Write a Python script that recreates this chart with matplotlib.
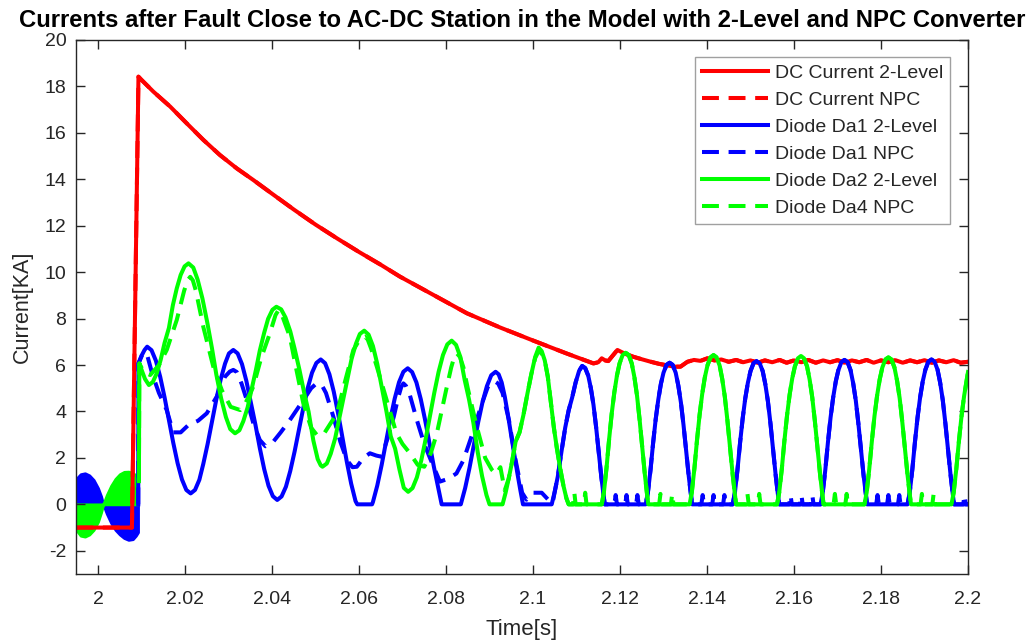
import matplotlib
matplotlib.use("Agg")
import matplotlib.pyplot as plt

plt.rcParams['font.family'] = ['Liberation Sans', 'DejaVu Sans']
plt.rcParams['axes.unicode_minus'] = False

# ---------------------------------------------------------------- data
# DC current, 2-level converter [kA]
dc_2l_t = [1.995, 2.0078, 2.0093, 2.0099, 2.0127, 2.0166, 2.0204, 2.0242, 2.0280,
           2.0319, 2.0357, 2.0400, 2.0450, 2.0500, 2.0550, 2.0600, 2.0650, 2.0694,
           2.0771, 2.0848, 2.0924, 2.1001, 2.1077, 2.1139, 2.1150, 2.1158, 2.1166,
           2.1173, 2.1183, 2.1194, 2.1210, 2.1230, 2.1250, 2.1269, 2.1290, 2.1310,
           2.1325, 2.1339, 2.1355, 2.1370, 2.1385, 2.1401, 2.1417, 2.1433, 2.1450,
           2.1467, 2.1483, 2.1500, 2.1517, 2.1533, 2.1550, 2.1567, 2.1583, 2.1600,
           2.1617, 2.1633, 2.1650, 2.1667, 2.1683, 2.1700, 2.1717, 2.1733, 2.1750,
           2.1767, 2.1783, 2.1800, 2.1817, 2.1833, 2.1850, 2.1867, 2.1883, 2.1900,
           2.1917, 2.1933, 2.1950, 2.1967, 2.1983, 2.2000]
dc_2l_i = [-1.0, -1.0, 18.42, 18.30, 17.78, 17.13, 16.41, 15.70, 15.05,
           14.47, 13.97, 13.38, 12.70, 12.05, 11.45, 10.87, 10.32, 9.81,
           9.02, 8.23, 7.62, 7.05, 6.50, 6.07, 6.12, 6.29, 6.20,
           6.17, 6.40, 6.65, 6.50, 6.36, 6.25, 6.15, 6.05, 5.98,
           5.93, 5.93, 6.14, 6.22, 6.18, 6.29, 6.20, 6.24, 6.14,
           6.22, 6.12, 6.20, 6.10, 6.20, 6.12, 6.22, 6.10, 6.20,
           6.12, 6.22, 6.10, 6.20, 6.12, 6.21, 6.10, 6.20, 6.12,
           6.22, 6.10, 6.20, 6.12, 6.21, 6.10, 6.20, 6.12, 6.21,
           6.10, 6.20, 6.12, 6.21, 6.10, 6.14]

# DC current, NPC converter [kA]
dc_npc_t = list(dc_2l_t)
dc_npc_i = list(dc_2l_i)

# Diode Da1, 2-level converter [kA]
da1_2l_t = [2.00925, 2.0093, 2.0100, 2.0107, 2.0113,
            2.0123, 2.0133, 2.0143, 2.0153, 2.0163, 2.0173, 2.0183, 2.0193, 2.0203, 2.0213,
            2.0223, 2.0233, 2.0242, 2.0252, 2.0262, 2.0272, 2.0282, 2.0292, 2.0301, 2.0311,
            2.0321, 2.0331, 2.0341, 2.0351, 2.0362, 2.0372, 2.0382, 2.0392, 2.0402, 2.0412,
            2.0422, 2.0432, 2.0442, 2.0452, 2.0462, 2.0472, 2.0482, 2.0492, 2.0502, 2.0512,
            2.0522, 2.0532, 2.0542, 2.0552, 2.0562, 2.0572, 2.0582, 2.0592, 2.0596,
            2.0630, 2.0632, 2.0642, 2.0652, 2.0662, 2.0672, 2.0682, 2.0692, 2.0702, 2.0712,
            2.0722, 2.0732, 2.0742, 2.0752, 2.0762, 2.0772, 2.0782, 2.0790,
            2.0834, 2.0844, 2.0854, 2.0864, 2.0874, 2.0884, 2.0894, 2.0904, 2.0914,
            2.0921, 2.0928, 2.0935, 2.0942, 2.0950, 2.0957, 2.0964, 2.0971, 2.0977,
            2.1043, 2.1050, 2.1057, 2.1066, 2.1074, 2.1082, 2.1090, 2.1098, 2.1106, 2.1113,
            2.1120, 2.1127, 2.1133, 2.1139, 2.1145, 2.1151, 2.1157, 2.1162, 2.1165,
            2.1259, 2.1264, 2.1270, 2.1276, 2.1282, 2.1288, 2.1294, 2.1300, 2.1307, 2.1314,
            2.1321, 2.1328, 2.1334, 2.1340, 2.1346, 2.1352, 2.1358, 2.1363, 2.1366,
            2.1459, 2.1464, 2.1470, 2.1476, 2.1482, 2.1488, 2.1494, 2.1500, 2.1507, 2.1514,
            2.1521, 2.1528, 2.1534, 2.1540, 2.1546, 2.1552, 2.1558, 2.1563, 2.1566,
            2.1661, 2.1666, 2.1672, 2.1678, 2.1684, 2.1690, 2.1696, 2.1702, 2.1709, 2.1716,
            2.1723, 2.1730, 2.1736, 2.1742, 2.1748, 2.1754, 2.1760, 2.1765, 2.1768,
            2.1861, 2.1866, 2.1872, 2.1878, 2.1884, 2.1890, 2.1896, 2.1902, 2.1909, 2.1916,
            2.1923, 2.1930, 2.1936, 2.1942, 2.1948, 2.1954, 2.1960, 2.1965, 2.1968, 2.2000]
da1_2l_i = [0.0, 6.07, 6.40, 6.65, 6.79,
            6.64, 6.19, 5.49, 4.61, 3.63, 2.65, 1.77, 1.07, 0.62, 0.47,
            0.62, 1.06, 1.74, 2.60, 3.56, 4.52, 5.38, 6.06, 6.50, 6.65,
            6.50, 6.04, 5.32, 4.42, 3.42, 2.42, 1.52, 0.80, 0.35, 0.19,
            0.34, 0.76, 1.44, 2.28, 3.22, 4.16, 5.00, 5.67, 6.09, 6.24,
            6.08, 5.60, 4.85, 3.91, 2.87, 1.83, 0.89, 0.14, 0.0,
            0.0, 0.10, 0.81, 1.69, 2.68, 3.67, 4.55, 5.26, 5.71, 5.86,
            5.70, 5.25, 4.53, 3.63, 2.63, 1.63, 0.73, 0.0,
            0.0, 0.70, 1.57, 2.56, 3.54, 4.41, 5.09, 5.56, 5.71,
            5.60, 5.25, 4.65, 3.90, 2.95, 2.15, 1.35, 0.60, 0.0,
            0.0, 0.55, 1.20, 2.34, 3.30, 4.05, 4.60, 5.25, 5.75, 5.96,
            5.87, 5.54, 5.00, 4.29, 3.34, 2.26, 1.19, 0.42, 0.0,
            0.0, 0.49, 1.46, 2.62, 3.66, 4.51, 5.19, 5.67, 6.01, 6.10,
            6.01, 5.67, 5.12, 4.39, 3.42, 2.32, 1.22, 0.43, 0.0,
            0.0, 0.49, 1.48, 2.65, 3.70, 4.57, 5.24, 5.74, 6.08, 6.17,
            6.08, 5.74, 5.18, 4.44, 3.46, 2.34, 1.23, 0.43, 0.0,
            0.0, 0.50, 1.49, 2.67, 3.73, 4.60, 5.29, 5.78, 6.13, 6.22,
            6.13, 5.78, 5.22, 4.48, 3.48, 2.36, 1.24, 0.44, 0.0,
            0.0, 0.50, 1.50, 2.68, 3.74, 4.62, 5.30, 5.80, 6.15, 6.24,
            6.15, 5.80, 5.24, 4.49, 3.49, 2.37, 1.25, 0.44, 0.0, 0.0]

# Diode Da1, NPC converter [kA]
da1_npc_t = [2.00925, 2.0093, 2.0103, 2.0112, 2.0125, 2.0140, 2.0158, 2.0173, 2.0190,
             2.0208, 2.0230, 2.0250, 2.0273, 2.0292, 2.0303, 2.0311, 2.0319, 2.0330,
             2.0342, 2.0357, 2.0372, 2.0385, 2.0403, 2.0420, 2.0441, 2.0472, 2.0490,
             2.0500, 2.0507, 2.0514, 2.0524, 2.0541, 2.0557, 2.0572, 2.0585, 2.0595,
             2.0610, 2.0625, 2.0640, 2.0652, 2.0665, 2.0680, 2.0690, 2.0697, 2.0702,
             2.0708, 2.0717, 2.0733, 2.0750, 2.0765, 2.0786, 2.0805, 2.0824, 2.0840,
             2.0860, 2.0880, 2.0896, 2.0905, 2.0912, 2.0920, 2.0930, 2.0945, 2.0960,
             2.0975, 2.0985, 2.1000, 2.1020, 2.1035, 2.1045,
             2.1050, 2.1057, 2.1066, 2.1074, 2.1082, 2.1090, 2.1098, 2.1106, 2.1113,
             2.1120, 2.1127, 2.1133, 2.1139, 2.1145, 2.1151, 2.1157, 2.1162, 2.1165,
             2.1187, 2.1190, 2.1193, 2.1212, 2.1215, 2.1218, 2.1237, 2.1240, 2.1243,
             2.1259, 2.1264, 2.1270, 2.1276, 2.1282, 2.1288, 2.1294, 2.1300, 2.1307, 2.1314,
             2.1321, 2.1328, 2.1334, 2.1340, 2.1346, 2.1352, 2.1358, 2.1363, 2.1366,
             2.1387, 2.1390, 2.1393, 2.1412, 2.1415, 2.1418, 2.1437, 2.1440, 2.1443,
             2.1459, 2.1464, 2.1470, 2.1476, 2.1482, 2.1488, 2.1494, 2.1500, 2.1507, 2.1514,
             2.1521, 2.1528, 2.1534, 2.1540, 2.1546, 2.1552, 2.1558, 2.1563, 2.1566,
             2.1589, 2.1592, 2.1595, 2.1614, 2.1617, 2.1620, 2.1639, 2.1642, 2.1645,
             2.1661, 2.1666, 2.1672, 2.1678, 2.1684, 2.1690, 2.1696, 2.1702, 2.1709, 2.1716,
             2.1723, 2.1730, 2.1736, 2.1742, 2.1748, 2.1754, 2.1760, 2.1765, 2.1768,
             2.1789, 2.1792, 2.1795, 2.1814, 2.1817, 2.1820, 2.1839, 2.1842, 2.1845,
             2.1861, 2.1866, 2.1872, 2.1878, 2.1884, 2.1890, 2.1896, 2.1902, 2.1909, 2.1916,
             2.1923, 2.1930, 2.1936, 2.1942, 2.1948, 2.1954, 2.1960, 2.1965, 2.1968,
             2.1989, 2.1992, 2.1995, 2.2000]
da1_npc_i = [0.0, 6.07, 6.50, 6.50, 5.60, 4.80, 4.06, 3.10, 3.10,
             3.42, 3.60, 3.92, 4.64, 5.50, 5.72, 5.79, 5.70, 5.20,
             4.49, 3.50, 2.77, 2.50, 2.70, 3.10, 3.63, 4.49, 5.00,
             5.17, 5.21, 5.15, 4.80, 3.78, 2.70, 1.91, 1.60, 1.62,
             2.00, 2.20, 2.10, 2.05, 2.80, 3.78, 4.60, 5.05, 5.21,
             5.10, 4.70, 3.63, 2.60, 1.91, 0.98, 1.10, 1.33, 1.90,
             3.00, 4.20, 5.05, 5.25, 5.30, 5.20, 4.80, 3.60, 1.90,
             0.50, 0.20, 0.50, 0.50, 0.20, 0.05,
             0.55, 1.20, 2.34, 3.30, 4.05, 4.60, 5.25, 5.75, 5.96,
             5.87, 5.54, 5.00, 4.29, 3.34, 2.26, 1.19, 0.42, 0.0,
             0.0, 0.40, 0.0, 0.0, 0.40, 0.0, 0.0, 0.40, 0.0,
             0.0, 0.49, 1.46, 2.62, 3.66, 4.51, 5.19, 5.67, 6.01, 6.10,
             6.01, 5.67, 5.12, 4.39, 3.42, 2.32, 1.22, 0.43, 0.0,
             0.0, 0.40, 0.0, 0.0, 0.40, 0.0, 0.0, 0.40, 0.0,
             0.0, 0.49, 1.48, 2.65, 3.70, 4.57, 5.24, 5.74, 6.08, 6.17,
             6.08, 5.74, 5.18, 4.44, 3.46, 2.34, 1.23, 0.43, 0.0,
             0.0, 0.40, 0.0, 0.0, 0.40, 0.0, 0.0, 0.40, 0.0,
             0.0, 0.50, 1.49, 2.67, 3.73, 4.60, 5.29, 5.78, 6.13, 6.22,
             6.13, 5.78, 5.22, 4.48, 3.48, 2.36, 1.24, 0.44, 0.0,
             0.0, 0.40, 0.0, 0.0, 0.40, 0.0, 0.0, 0.40, 0.0,
             0.0, 0.50, 1.50, 2.68, 3.74, 4.62, 5.30, 5.80, 6.15, 6.24,
             6.15, 5.80, 5.24, 4.49, 3.49, 2.37, 1.25, 0.44, 0.0,
             0.0, 0.40, 0.0, 0.0]

# Diode Da2, 2-level converter [kA]
da2_2l_t = [2.0094, 2.0095, 2.0101, 2.0108, 2.0117,
            2.0126, 2.0135, 2.0144, 2.0153, 2.0163, 2.0172, 2.0181, 2.0190, 2.0199, 2.0208,
            2.0219, 2.0229, 2.0240, 2.0251, 2.0262, 2.0272, 2.0283, 2.0294, 2.0304, 2.0315,
            2.0325, 2.0334, 2.0344, 2.0353, 2.0363, 2.0372, 2.0382, 2.0391, 2.0401, 2.0410,
            2.0421, 2.0431, 2.0442, 2.0452, 2.0463, 2.0474, 2.0484, 2.0495, 2.0505, 2.0512,
            2.0516,
            2.0526, 2.0535, 2.0545, 2.0554, 2.0564, 2.0574, 2.0583, 2.0593, 2.0602, 2.0612,
            2.0622, 2.0632, 2.0642, 2.0652, 2.0663, 2.0673, 2.0683, 2.0693, 2.0703, 2.0713,
            2.0723, 2.0733, 2.0743, 2.0753, 2.0763, 2.0773, 2.0783, 2.0793, 2.0803, 2.0813,
            2.0823, 2.0833, 2.0843, 2.0853, 2.0863, 2.0873, 2.0883, 2.0893, 2.0900,
            2.0930, 2.0937, 2.0944, 2.0951, 2.0960, 2.0969, 2.0978, 2.0987, 2.0996, 2.1005,
            2.1013, 2.1020, 2.1027, 2.1034, 2.1041, 2.1048, 2.1055, 2.1062, 2.1070, 2.1077,
            2.1082,
            2.1158, 2.1163, 2.1169, 2.1175, 2.1181, 2.1187, 2.1193, 2.1199, 2.1206, 2.1213,
            2.1220, 2.1227, 2.1233, 2.1239, 2.1245, 2.1251, 2.1257, 2.1262, 2.1265,
            2.1360, 2.1365, 2.1371, 2.1377, 2.1383, 2.1389, 2.1395, 2.1401, 2.1408, 2.1415,
            2.1422, 2.1429, 2.1435, 2.1441, 2.1447, 2.1453, 2.1459, 2.1464, 2.1467,
            2.1561, 2.1566, 2.1572, 2.1578, 2.1584, 2.1590, 2.1596, 2.1602, 2.1609, 2.1616,
            2.1623, 2.1630, 2.1636, 2.1642, 2.1648, 2.1654, 2.1660, 2.1665, 2.1668,
            2.1762, 2.1767, 2.1773, 2.1779, 2.1785, 2.1791, 2.1797, 2.1803, 2.1810, 2.1817,
            2.1824, 2.1831, 2.1837, 2.1843, 2.1849, 2.1855, 2.1861, 2.1866, 2.1869,
            2.1962, 2.1967, 2.1973, 2.1979, 2.1985, 2.1991, 2.1997, 2.2000]
da2_2l_i = [1.0, 6.07, 5.75, 5.40, 5.14,
            5.27, 5.64, 6.22, 6.95, 7.60, 8.57, 9.30, 9.88, 10.25, 10.38,
            10.20, 9.68, 8.87, 7.85, 6.72, 5.59, 4.57, 3.76, 3.24, 3.06,
            3.19, 3.58, 4.18, 4.94, 5.79, 6.63, 7.39, 7.99, 8.38, 8.51,
            8.40, 8.05, 7.45, 6.70, 5.80, 4.80, 4.00, 2.75, 1.95, 1.68,
            1.62,
            1.76, 2.18, 2.83, 3.64, 4.55, 5.46, 6.27, 6.92, 7.34, 7.48,
            7.31, 6.82, 6.05, 5.09, 4.01, 2.93, 2.40, 1.50, 0.71, 0.54,
            0.70, 1.16, 1.88, 2.79, 3.80, 4.80, 5.71, 6.43, 6.89, 7.05,
            6.87, 6.35, 5.35, 4.51, 3.50, 2.24, 1.21, 0.40, 0.0,
            0.0, 0.50, 1.10, 1.75, 2.70, 3.10, 3.85, 4.75, 5.60, 6.35,
            6.75, 6.60, 6.20, 5.50, 4.40, 3.30, 2.40, 1.60, 0.80, 0.25,
            0.0,
            0.0, 0.52, 1.57, 2.81, 3.92, 4.83, 5.55, 6.07, 6.43, 6.53,
            6.43, 6.07, 5.49, 4.70, 3.66, 2.48, 1.31, 0.46, 0.0,
            0.0, 0.51, 1.54, 2.76, 3.86, 4.76, 5.47, 5.98, 6.33, 6.43,
            6.33, 5.98, 5.40, 4.63, 3.60, 2.44, 1.29, 0.45, 0.0,
            0.0, 0.51, 1.53, 2.75, 3.83, 4.73, 5.43, 5.94, 6.29, 6.39,
            6.29, 5.94, 5.37, 4.60, 3.58, 2.43, 1.28, 0.45, 0.0,
            0.0, 0.51, 1.52, 2.72, 3.80, 4.68, 5.38, 5.89, 6.24, 6.33,
            6.24, 5.89, 5.32, 4.56, 3.54, 2.41, 1.27, 0.44, 0.0,
            0.0, 0.50, 1.50, 2.70, 3.78, 4.66, 5.36, 5.70]

# Diode Da4, NPC converter [kA]
da4_npc_t = [2.0094, 2.0095, 2.0105, 2.0120, 2.0140, 2.0158, 2.0181, 2.0198, 2.0206,
             2.0212, 2.0218, 2.0225, 2.0242, 2.0265, 2.0285, 2.0305, 2.0327, 2.0340,
             2.0357, 2.0375, 2.0395, 2.0408, 2.0415, 2.0422, 2.0441, 2.0455, 2.0472,
             2.0490, 2.0503, 2.0518, 2.0535, 2.0549, 2.0568, 2.0587, 2.0600, 2.0608,
             2.0614, 2.0620, 2.0628, 2.0641, 2.0665, 2.0686, 2.0700, 2.0717, 2.0735,
             2.0750, 2.0765, 2.0779, 2.0800, 2.0812, 2.0819, 2.0825, 2.0832, 2.0840,
             2.0850, 2.0870, 2.0890, 2.0905, 2.0915, 2.0925, 2.0935,
             2.0944, 2.0951, 2.0960, 2.0969, 2.0978, 2.0987, 2.0996, 2.1005,
             2.1013, 2.1020, 2.1027, 2.1034, 2.1041, 2.1048, 2.1055, 2.1062, 2.1070, 2.1077,
             2.1082, 2.1092, 2.1095, 2.1098, 2.1117, 2.1120, 2.1123,
             2.1158, 2.1163, 2.1169, 2.1175, 2.1181, 2.1187, 2.1193, 2.1199, 2.1206, 2.1213,
             2.1220, 2.1227, 2.1233, 2.1239, 2.1245, 2.1251, 2.1257, 2.1262, 2.1265,
             2.1290, 2.1293, 2.1296, 2.1317, 2.1320, 2.1323,
             2.1360, 2.1365, 2.1371, 2.1377, 2.1383, 2.1389, 2.1395, 2.1401, 2.1408, 2.1415,
             2.1422, 2.1429, 2.1435, 2.1441, 2.1447, 2.1453, 2.1459, 2.1464, 2.1467,
             2.1490, 2.1493, 2.1496, 2.1517, 2.1520, 2.1523,
             2.1561, 2.1566, 2.1572, 2.1578, 2.1584, 2.1590, 2.1596, 2.1602, 2.1609, 2.1616,
             2.1623, 2.1630, 2.1636, 2.1642, 2.1648, 2.1654, 2.1660, 2.1665, 2.1668,
             2.1691, 2.1694, 2.1697, 2.1718, 2.1721, 2.1724,
             2.1762, 2.1767, 2.1773, 2.1779, 2.1785, 2.1791, 2.1797, 2.1803, 2.1810, 2.1817,
             2.1824, 2.1831, 2.1837, 2.1843, 2.1849, 2.1855, 2.1861, 2.1866, 2.1869,
             2.1891, 2.1894, 2.1897, 2.1918, 2.1921, 2.1924,
             2.1962, 2.1967, 2.1973, 2.1979, 2.1985, 2.1991, 2.1997, 2.2000]
da4_npc_i = [1.0, 6.07, 5.70, 5.57, 6.00, 6.65, 7.94, 9.20, 9.65,
             9.80, 9.65, 9.20, 7.65, 5.93, 4.90, 4.20, 4.06, 4.40,
             5.07, 6.30, 7.36, 8.15, 8.37, 8.20, 7.22, 5.90, 4.35,
             3.30, 2.99, 3.00, 3.50, 3.90, 5.30, 6.65, 7.05, 7.18,
             7.22, 7.10, 6.70, 5.93, 4.40, 3.06, 2.60, 2.20, 1.70,
             1.62, 2.20, 3.06, 4.90, 5.90, 6.35, 6.50, 6.35, 5.90,
             5.00, 3.40, 2.00, 1.50, 1.30, 1.60, 0.60,
             1.10, 1.75, 2.70, 3.10, 3.85, 4.75, 5.60, 6.30,
             6.60, 6.50, 6.20, 5.50, 4.40, 3.30, 2.40, 1.60, 0.80, 0.25,
             0.0, 0.0, 0.50, 0.0, 0.0, 0.50, 0.0,
             0.0, 0.52, 1.57, 2.81, 3.92, 4.83, 5.55, 6.07, 6.43, 6.53,
             6.43, 6.07, 5.49, 4.70, 3.66, 2.48, 1.31, 0.46, 0.0,
             0.0, 0.45, 0.0, 0.0, 0.45, 0.0,
             0.0, 0.51, 1.54, 2.76, 3.86, 4.76, 5.47, 5.98, 6.33, 6.43,
             6.33, 5.98, 5.40, 4.63, 3.60, 2.44, 1.29, 0.45, 0.0,
             0.0, 0.45, 0.0, 0.0, 0.45, 0.0,
             0.0, 0.51, 1.53, 2.75, 3.83, 4.73, 5.43, 5.94, 6.29, 6.39,
             6.29, 5.94, 5.37, 4.60, 3.58, 2.43, 1.28, 0.45, 0.0,
             0.0, 0.45, 0.0, 0.0, 0.45, 0.0,
             0.0, 0.51, 1.52, 2.72, 3.80, 4.68, 5.38, 5.89, 6.24, 6.33,
             6.24, 5.89, 5.32, 4.56, 3.54, 2.41, 1.27, 0.44, 0.0,
             0.0, 0.45, 0.0, 0.0, 0.45, 0.0,
             0.0, 0.50, 1.50, 2.70, 3.78, 4.66, 5.36, 5.70]

# Pre-fault diode currents: fast switching fills the band between 0 and these envelopes
prefault_t = [1.9950, 1.9960, 1.9970, 1.9980, 1.9990, 2.0000, 2.0007, 2.0012, 2.0020,
              2.0030, 2.0040, 2.0050, 2.0060, 2.0070, 2.0080, 2.0087, 2.0092]
da1_prefault_env = [1.10, 1.30, 1.34, 1.25, 1.05, 0.70, 0.35, 0.0, -0.40,
                    -0.80, -1.10, -1.30, -1.45, -1.53, -1.50, -1.35, -1.20]
da2_prefault_env = [-1.10, -1.35, -1.39, -1.30, -1.10, -0.75, -0.35, 0.0, 0.40,
                    0.80, 1.10, 1.30, 1.40, 1.41, 1.35, 1.25, 1.10]

series_labels = ['DC Current 2-Level', 'DC Current NPC', 'Diode Da1 2-Level',
                 'Diode Da1 NPC', 'Diode Da2 2-Level', 'Diode Da4 NPC']

x_ticks = [2.0, 2.02, 2.04, 2.06, 2.08, 2.1, 2.12, 2.14, 2.16, 2.18, 2.2]
x_tick_labels = ['2', '2.02', '2.04', '2.06', '2.08', '2.1', '2.12', '2.14',
                 '2.16', '2.18', '2.2']
y_ticks = [-2, 0, 2, 4, 6, 8, 10, 12, 14, 16, 18, 20]

# ---------------------------------------------------------------- figure
RED, BLUE, GREEN = '#ff0000', '#0000ff', '#00ff00'
AX_COLOR = '#262626'
LW = 2.9
DASH = (0, (4.2, 2.4))

fig = plt.figure(figsize=(10.34, 6.44), dpi=100)
ax = fig.add_axes([76 / 1034, 70 / 644, 892 / 1034, 534 / 644])

ax.plot(dc_2l_t, dc_2l_i, color=RED, lw=LW, label=series_labels[0])
ax.plot(dc_npc_t, dc_npc_i, color=RED, lw=LW, ls=DASH, label=series_labels[1])

ax.fill_between(prefault_t, 0, da1_prefault_env, color=BLUE, lw=2.0, edgecolor=BLUE)
ax.plot(da1_2l_t, da1_2l_i, color=BLUE, lw=LW, label=series_labels[2])
ax.plot(da1_npc_t, da1_npc_i, color=BLUE, lw=LW, ls=DASH, label=series_labels[3])

ax.fill_between(prefault_t, 0, da2_prefault_env, color=GREEN, lw=2.0, edgecolor=GREEN)
ax.plot(da2_2l_t, da2_2l_i, color=GREEN, lw=LW, label=series_labels[4])
ax.plot(da4_npc_t, da4_npc_i, color=GREEN, lw=LW, ls=DASH, label=series_labels[5])

ax.set_xlim(1.99494, 2.2)
ax.set_ylim(-3, 20)
ax.set_xticks(x_ticks)
ax.set_xticklabels(x_tick_labels)
ax.set_yticks(y_ticks)

for side in ax.spines.values():
    side.set_color(AX_COLOR)
    side.set_linewidth(1.0)
ax.tick_params(axis='both', direction='in', length=6.5, width=1.0, colors=AX_COLOR,
               labelsize=14, top=True, right=True)
ax.tick_params(axis='x', pad=12)
ax.tick_params(axis='y', pad=7)

ax.set_xlabel('Time[s]', fontsize=16, color=AX_COLOR, labelpad=8)
ax.set_ylabel('Current[KA]', fontsize=15.5, color=AX_COLOR, labelpad=8)
ax.set_title('Currents after Fault Close to AC-DC Station in the Model with 2-Level and NPC Converter',
             fontsize=17.2, fontweight='bold', pad=9.5)

leg = ax.legend(loc='upper right', bbox_to_anchor=(0.9798, 0.968), fontsize=14,
                frameon=True, fancybox=False, framealpha=1, edgecolor='#a0a0a0',
                handlelength=3.4, handletextpad=0.35, labelspacing=0.49,
                borderpad=0.35, borderaxespad=0.0)
leg.get_frame().set_linewidth(1.0)
for txt in leg.get_texts():
    txt.set_color(AX_COLOR)

fig.savefig('out.png', dpi=100, facecolor='white')
